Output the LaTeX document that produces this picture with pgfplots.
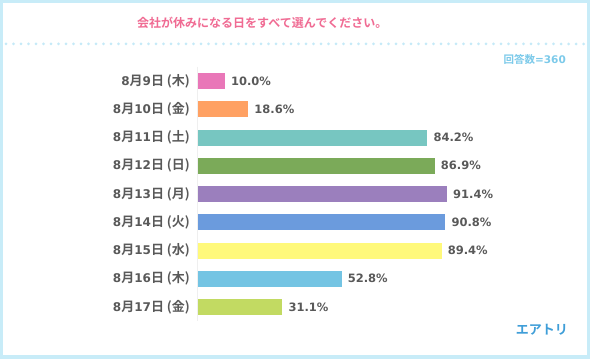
\documentclass[border=0pt]{standalone}
\usepackage{pgfplots}
\pgfplotsset{compat=1.18}
\usepackage{fontspec}
\setmainfont{Noto Sans CJK JP}[BoldFont={Noto Sans CJK JP Bold}]
\newfontfamily\djv{DejaVu Sans}
\newcommand\D[1]{{\djv\bfseries\fontsize{12}{12}\selectfont #1}}
\definecolor{frameblue}{HTML}{C8ECF8}
\definecolor{dotblue}{HTML}{C5EAF8}
\definecolor{titlepink}{HTML}{F06B93}
\definecolor{nblue}{HTML}{7CCAEA}
\definecolor{logoblue}{HTML}{3F9ED8}
\definecolor{txtgray}{HTML}{595959}
\definecolor{axgray}{HTML}{D4D4D4}
\definecolor{c1}{HTML}{E977B8}
\definecolor{c2}{HTML}{FFA163}
\definecolor{c3}{HTML}{77C6C1}
\definecolor{c4}{HTML}{7BAA59}
\definecolor{c5}{HTML}{9B7FBD}
\definecolor{c6}{HTML}{6B9BDD}
\definecolor{c7}{HTML}{FFF97B}
\definecolor{c8}{HTML}{74C4E3}
\definecolor{c9}{HTML}{C2DA62}
\begin{document}
\begin{tikzpicture}[x=1pt,y=1pt]
\path[use as bounding box] (0,0) rectangle (590,359);
\fill[frameblue] (0,0) rectangle (590,359);
\fill[white] (3,4) rectangle (587,356);
\node[text=titlepink, font=\bfseries\fontsize{12}{12}\selectfont, anchor=west, inner sep=0pt] at (137,336) {会社が休みになる日をすべて選んでください。};
\foreach \i in {0,...,77} \fill[dotblue] (6+\i*7.5, 315) circle (1.5);
\node[anchor=east, text=nblue, font=\bfseries\fontsize{10.5}{10.5}\selectfont, inner sep=0pt] at (566,299.5) {回答数{\djv\bfseries =360}};
\node[anchor=east, text=logoblue, font=\bfseries\fontsize{13}{13}\selectfont, inner sep=0pt] at (568,29) {エアトリ};
\begin{axis}[
  at={(197.5pt,37.85pt)}, anchor=south west,
  scale only axis, width=273pt, height=254.25pt,
  xmin=0, xmax=100, ymin=-0.5, ymax=8.5, y dir=reverse,
  xbar, bar width=16pt, bar shift=0pt,
  axis line style={draw=none}, major tick length=0pt,
  xtick=\empty,
  ytick={0,...,8},
  yticklabels={\D{8}月\D{9}日 (木),\D{8}月\D{10}日 (金),\D{8}月\D{11}日 (土),\D{8}月\D{12}日 (日),\D{8}月\D{13}日 (月),\D{8}月\D{14}日 (火),\D{8}月\D{15}日 (水),\D{8}月\D{16}日 (木),\D{8}月\D{17}日 (金)},
  yticklabel style={font=\bfseries\fontsize{13}{13}\selectfont, text=txtgray, inner sep=0pt, anchor=east, xshift=-7.5pt},
  nodes near coords={\pgfmathprintnumber[fixed,fixed zerofill,precision=1,assume math mode=true]{\pgfplotspointmeta}\%},
  nodes near coords style={font=\djv\bfseries\fontsize{11.5}{11.5}\selectfont, text=txtgray, anchor=west, inner sep=0pt, xshift=6pt},
  every axis plot/.append style={draw=none},
]
\draw[axgray, line width=1pt] (axis cs:0,-0.5) -- (axis cs:0,8.5);
\addplot[fill=c1] coordinates {(10.0,0)};
\addplot[fill=c2] coordinates {(18.6,1)};
\addplot[fill=c3] coordinates {(84.2,2)};
\addplot[fill=c4] coordinates {(86.9,3)};
\addplot[fill=c5] coordinates {(91.4,4)};
\addplot[fill=c6] coordinates {(90.8,5)};
\addplot[fill=c7] coordinates {(89.4,6)};
\addplot[fill=c8] coordinates {(52.8,7)};
\addplot[fill=c9] coordinates {(31.1,8)};
\end{axis}
\end{tikzpicture}
\end{document}
